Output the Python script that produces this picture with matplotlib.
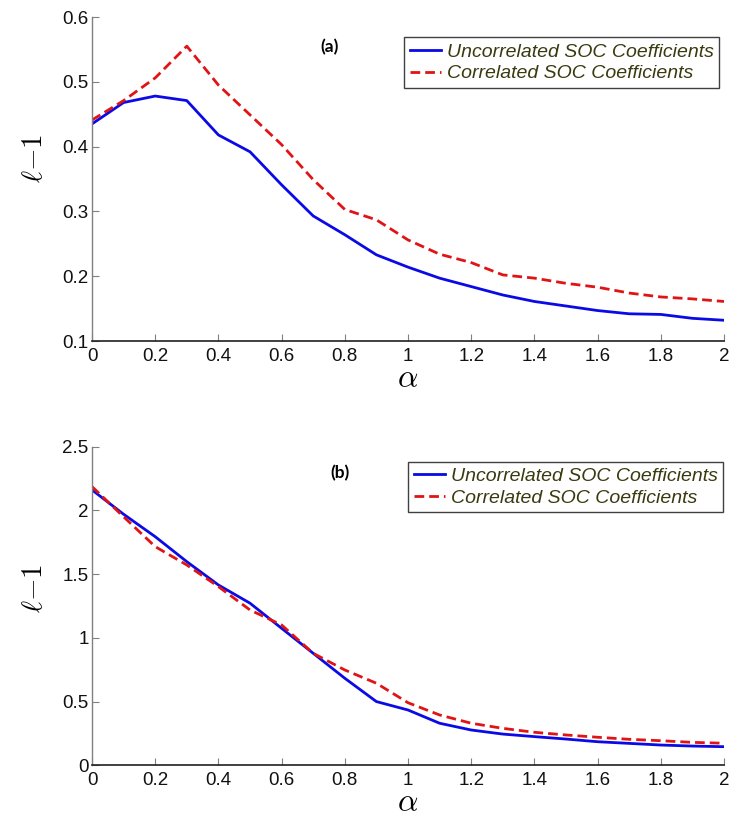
import matplotlib
matplotlib.use("Agg")
import matplotlib.pyplot as plt

plt.rcParams['font.family'] = ['Liberation Sans', 'DejaVu Sans']
plt.rcParams['mathtext.fontset'] = 'cm'

alpha = [0.0, 0.1, 0.2, 0.3, 0.4, 0.5, 0.6, 0.7, 0.8, 0.9, 1.0,
         1.1, 1.2, 1.3, 1.4, 1.5, 1.6, 1.7, 1.8, 1.9, 2.0]

a_uncorr = [0.435, 0.468, 0.478, 0.471, 0.418, 0.392, 0.341, 0.293, 0.264, 0.233, 0.214,
            0.197, 0.184, 0.171, 0.161, 0.154, 0.147, 0.142, 0.141, 0.135, 0.132]
a_corr = [0.441, 0.471, 0.506, 0.555, 0.495, 0.449, 0.403, 0.349, 0.303, 0.287, 0.256,
          0.234, 0.221, 0.202, 0.197, 0.189, 0.183, 0.174, 0.168, 0.165, 0.161]

b_uncorr = [2.161, 1.97, 1.794, 1.598, 1.415, 1.272, 1.075, 0.879, 0.683, 0.50, 0.434,
            0.33, 0.277, 0.245, 0.225, 0.206, 0.185, 0.172, 0.159, 0.151, 0.146]
b_corr = [2.187, 1.95, 1.716, 1.572, 1.402, 1.219, 1.101, 0.879, 0.748, 0.644, 0.491,
          0.395, 0.330, 0.29, 0.259, 0.238, 0.22, 0.204, 0.193, 0.18, 0.173]

labels = ['Uncorrelated SOC Coefficients', 'Correlated SOC Coefficients']
xticks = [0, 0.2, 0.4, 0.6, 0.8, 1, 1.2, 1.4, 1.6, 1.8, 2]
xticklabels = ['0', '0.2', '0.4', '0.6', '0.8', '1', '1.2', '1.4', '1.6', '1.8', '2']
a_yticks = [0.1, 0.2, 0.3, 0.4, 0.5, 0.6]
a_yticklabels = ['0.1', '0.2', '0.3', '0.4', '0.5', '0.6']
b_yticks = [0, 0.5, 1, 1.5, 2, 2.5]
b_yticklabels = ['0', '0.5', '1', '1.5', '2', '2.5']

BLUE = '#0a0ae6'
RED = '#e01414'
W, H = 747, 830

fig = plt.figure(figsize=(W / 100, H / 100), dpi=100)
ax1 = fig.add_axes([92 / W, 1 - 341 / H, 632 / W, 324 / H])
ax2 = fig.add_axes([92 / W, 1 - 765.3 / H, 632 / W, 318.6 / H])


def style(ax, yticks, yticklabels, ylim, panel, ppos, lab_y, leg_anchor):
    ax.set_xlim(0, 2)
    ax.set_ylim(*ylim)
    ax.set_xticks(xticks)
    ax.set_xticklabels(xticklabels)
    ax.set_yticks(yticks)
    ax.set_yticklabels(yticklabels)
    for s in ['top', 'right']:
        ax.spines[s].set_visible(False)
    ax.spines['left'].set_color('#808080')
    ax.spines['bottom'].set_color('#202020')
    ax.spines['left'].set_linewidth(1.0)
    ax.spines['bottom'].set_linewidth(1.2)
    ax.tick_params(direction='in', length=5, color='#808080', labelsize=13.5,
                   labelcolor='#111111')
    ax.tick_params(axis='x', pad=5)
    ax.tick_params(axis='y', pad=2.5)
    ax.set_ylabel(r'$\ell{-}1$', fontsize=21, rotation=90)
    ax.yaxis.set_label_coords(-0.07, lab_y)
    ax.set_xlabel(r'$\alpha$', fontsize=23)
    ax.xaxis.set_label_coords(0.5, -0.072)
    ax.text(ppos[0], ppos[1], panel, fontsize=12.5, fontweight='bold',
            family=['Lato', 'DejaVu Sans'],
            ha='center', va='center', transform=ax.transData)
    leg = ax.legend(labels, loc='upper right', bbox_to_anchor=leg_anchor,
                    fontsize=14, handlelength=1.6, handletextpad=0.3,
                    borderpad=0.3, labelspacing=0.2, fancybox=False,
                    framealpha=1, borderaxespad=0.0)
    leg.get_frame().set_edgecolor('#404040')
    leg.get_frame().set_linewidth(1.0)
    for t in leg.get_texts():
        t.set_fontstyle('italic')
        t.set_color('#3a3a10')


ax1.plot(alpha, a_uncorr, color=BLUE, lw=2.0, ls='-')
ax1.plot(alpha, a_corr, color=RED, lw=2.0, ls=(0, (3.5, 1.8)))
style(ax1, a_yticks, a_yticklabels, (0.1, 0.6), '(a)', (0.753, 0.554), 0.565,
      (0.9926, 0.937))

ax2.plot(alpha, b_uncorr, color=BLUE, lw=2.0, ls='-')
ax2.plot(alpha, b_corr, color=RED, lw=2.0, ls=(0, (3.5, 1.8)))
style(ax2, b_yticks, b_yticklabels, (0, 2.5), '(b)', (0.785, 2.294), 0.556,
      (0.999, 0.953))

fig.savefig('out.png', dpi=100)
